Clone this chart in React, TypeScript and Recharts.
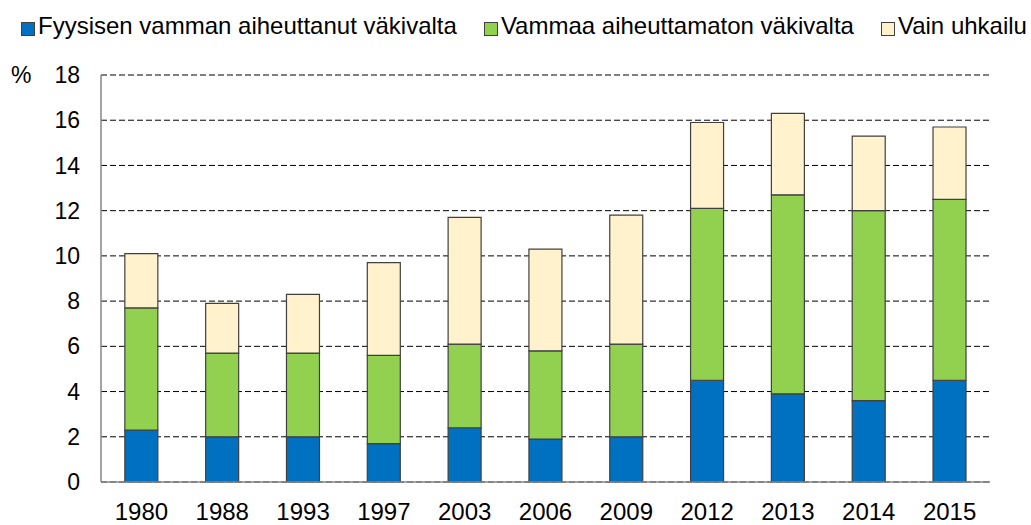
import { BarChart, Bar, XAxis, YAxis, CartesianGrid, Legend } from 'recharts';

const years = ['1980', '1988', '1993', '1997', '2003', '2006', '2009', '2012', '2013', '2014', '2015'];
const physicalInjury = [2.3, 2.0, 2.0, 1.7, 2.4, 1.9, 2.0, 4.5, 3.9, 3.6, 4.5];
const noInjury = [5.4, 3.7, 3.7, 3.9, 3.7, 3.9, 4.1, 7.6, 8.8, 8.4, 8.0];
const threatOnly = [2.4, 2.2, 2.6, 4.1, 5.6, 4.5, 5.7, 3.8, 3.6, 3.3, 3.2];
const yTicks = [0, 2, 4, 6, 8, 10, 12, 14, 16, 18];

const series = [
  { key: 'fyysinen', label: 'Fyysisen vamman aiheuttanut väkivalta', color: '#0070C0' },
  { key: 'vammaton', label: 'Vammaa aiheuttamaton väkivalta', color: '#92D050' },
  { key: 'uhkailu', label: 'Vain uhkailu', color: '#FFF2CC' },
];

const data = years.map((year, i) => ({
  year,
  fyysinen: physicalInjury[i],
  vammaton: noInjury[i],
  uhkailu: threatOnly[i],
}));

const FONT = '"Liberation Sans", Arial, sans-serif';

function LegendRow() {
  return (
    <div style={{ display: 'flex', alignItems: 'center', fontFamily: FONT, fontSize: 24, lineHeight: '24px', color: '#000', whiteSpace: 'nowrap' }}>
      {series.map((s) => (
        <div key={s.key} style={{ display: 'flex', alignItems: 'center', marginRight: 27 }}>
          <span
            style={{
              display: 'inline-block',
              width: 12,
              height: 12,
              background: s.color,
              border: '1px solid #404040',
              marginRight: 3,
              marginTop: 5,
            }}
          />
          <span>{s.label}</span>
        </div>
      ))}
    </div>
  );
}

export default function App() {
  return (
    <div style={{ position: 'absolute', left: 0, top: 0, width: 1031, height: 525, background: '#fff' }}>
      <BarChart
        width={1031}
        height={525}
        data={data}
        margin={{ top: 75, right: 41, bottom: 0, left: 0 }}
        barCategoryGap="29.5%"
      >
        <CartesianGrid vertical={false} stroke="#000" strokeDasharray="6 3" />
        <XAxis
          dataKey="year"
          height={43}
          axisLine={{ stroke: '#868686', strokeWidth: 1.5 }}
          tickLine={false}
          tickSize={0}
          tickMargin={21}
          tick={{ fontSize: 24, fill: '#000', fontFamily: FONT }}
        />
        <YAxis
          width={101}
          domain={[0, 18]}
          ticks={yTicks}
          interval={0}
          axisLine={{ stroke: '#868686', strokeWidth: 1.5 }}
          tickLine={false}
          tickSize={0}
          tickMargin={21}
          tick={{ fontSize: 23, fill: '#000', fontFamily: FONT }}
          label={{
            value: '%',
            content: (props: any) => (
              <text x={props.viewBox.x + 11} y={props.viewBox.y} dy="0.355em" fontSize={23} fontFamily={FONT} fill="#000">
                %
              </text>
            ),
          }}
        />
        <Legend
          layout="horizontal"
          verticalAlign="middle"
          align="center"
          wrapperStyle={{ top: 14, left: 21, width: 'auto' }}
          content={() => <LegendRow />}
        />
        {series.map((s) => (
          <Bar
            key={s.key}
            dataKey={s.key}
            name={s.label}
            stackId="a"
            fill={s.color}
            stroke="#404040"
            strokeWidth={1.2}
            isAnimationActive={false}
          />
        ))}
      </BarChart>
    </div>
  );
}
